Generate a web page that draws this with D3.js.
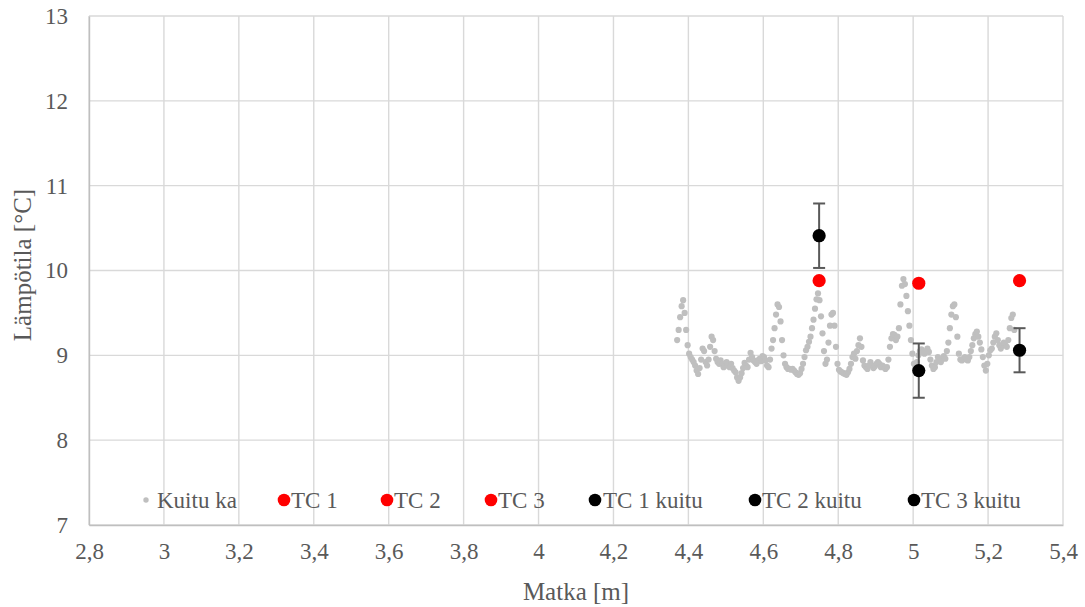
<!DOCTYPE html>
<html><head><meta charset="utf-8">
<script src="https://cdn.jsdelivr.net/npm/d3@7"></script>
<style>body{margin:0;background:#fff}svg text{font-family:"Liberation Serif","Times New Roman",serif;fill:#595959}</style>
</head><body><svg id="c" width="1085" height="607"></svg>
<script>
const xTicks=[2.8,3,3.2,3.4,3.6,3.8,4,4.2,4.4,4.6,4.8,5,5.2,5.4];
const yTicks=[7,8,9,10,11,12,13];
const kuituX=[
4.370,4.374,4.378,4.382,4.386,4.390,4.394,4.398,4.402,4.406,
4.410,4.414,4.418,4.422,4.426,4.430,4.434,4.438,4.442,4.446,
4.450,4.454,4.458,4.462,4.466,4.470,4.474,4.478,4.482,4.486,
4.490,4.494,4.498,4.502,4.506,4.510,4.514,4.518,4.522,4.526,
4.530,4.534,4.538,4.542,4.546,4.550,4.554,4.558,4.562,4.566,
4.570,4.574,4.578,4.582,4.586,4.590,4.594,4.598,4.602,4.606,
4.610,4.614,4.618,4.622,4.626,4.630,4.634,4.638,4.642,4.646,
4.650,4.654,4.658,4.662,4.666,4.670,4.674,4.678,4.682,4.686,
4.690,4.694,4.698,4.702,4.706,4.710,4.714,4.718,4.722,4.726,
4.730,4.734,4.738,4.742,4.746,4.750,4.754,4.758,4.762,4.766,
4.770,4.774,4.778,4.782,4.786,4.790,4.794,4.798,4.802,4.806,
4.810,4.814,4.818,4.822,4.826,4.830,4.834,4.838,4.842,4.846,
4.850,4.854,4.858,4.862,4.866,4.870,4.874,4.878,4.882,4.886,
4.890,4.894,4.898,4.902,4.906,4.910,4.914,4.918,4.922,4.926,
4.930,4.934,4.938,4.942,4.946,4.950,4.954,4.958,4.962,4.966,
4.970,4.974,4.978,4.982,4.986,4.990,4.994,4.998,5.002,5.006,
5.010,5.014,5.018,5.022,5.026,5.030,5.034,5.038,5.042,5.046,
5.050,5.054,5.058,5.062,5.066,5.070,5.074,5.078,5.082,5.086,
5.090,5.094,5.098,5.102,5.106,5.110,5.114,5.118,5.122,5.126,
5.130,5.134,5.138,5.142,5.146,5.150,5.154,5.158,5.162,5.166,
5.170,5.174,5.178,5.182,5.186,5.190,5.194,5.198,5.202,5.206,
5.210,5.214,5.218,5.222,5.226,5.230,5.234,5.238,5.242,5.246,
5.250,5.254,5.258,5.262,5.266,5.270];
const kuituY=[
9.18,9.30,9.45,9.58,9.65,9.50,9.30,9.12,9.02,8.98,
8.95,8.92,8.88,8.82,8.78,8.85,8.95,9.08,9.05,8.92,
8.88,8.95,9.10,9.22,9.18,9.05,8.96,8.92,8.90,8.94,
8.90,8.86,8.88,8.92,8.88,8.86,8.90,8.85,8.82,8.80,
8.74,8.70,8.74,8.79,8.85,8.91,8.88,8.86,8.95,9.03,
8.98,8.94,8.92,8.90,8.94,8.96,8.93,8.99,8.98,8.94,
8.88,8.86,8.95,9.08,9.18,9.32,9.48,9.60,9.57,9.40,
9.18,9.00,8.90,8.86,8.84,8.84,8.83,8.84,8.82,8.80,
8.78,8.77,8.79,8.84,8.90,8.98,9.06,9.10,9.16,9.22,
9.32,9.42,9.55,9.66,9.73,9.65,9.46,9.26,9.05,8.90,
8.95,9.15,9.35,9.48,9.50,9.35,9.10,8.90,8.83,8.81,
8.80,8.79,8.78,8.77,8.80,8.84,8.90,8.98,9.02,8.96,
9.05,9.12,9.20,9.10,8.94,8.88,8.86,8.84,8.88,8.92,
8.88,8.85,8.87,8.90,8.92,8.90,8.86,8.88,8.86,8.84,
8.86,8.95,9.10,9.20,9.25,9.24,9.18,9.22,9.32,9.60,
9.82,9.90,9.84,9.70,9.52,9.35,9.18,9.02,8.90,8.84,
8.92,9.00,9.05,9.07,9.04,9.02,9.05,9.08,9.04,8.95,
8.88,8.84,8.86,8.92,8.98,8.95,8.92,8.96,8.99,8.96,
9.05,9.15,9.32,9.48,9.58,9.60,9.45,9.22,9.02,8.95,
8.94,8.96,8.98,8.95,8.94,8.98,9.05,9.12,9.20,9.25,
9.28,9.22,9.15,9.07,8.98,8.88,8.82,8.90,9.00,9.06,
9.08,9.15,9.22,9.26,9.18,9.12,9.08,9.12,9.15,9.12,
9.10,9.18,9.32,9.44,9.48,9.30];
const tcNames=["TC 1","TC 2","TC 3"];
const tcX=[4.749,5.015,5.284];
const tcY=[9.88,9.85,9.88];
const fibNames=["TC 1 kuitu","TC 2 kuitu","TC 3 kuitu"];
const fibY=[10.41,8.82,9.06];
const fibErr=[0.38,0.32,0.26];
const legendLabels=["Kuitu ka"].concat(tcNames,fibNames);

const svg=d3.select("#c");
const L=89,R=1063,T=16,B=525;
const x=d3.scaleLinear().domain([2.8,5.4]).range([L,R]);
const y=d3.scaleLinear().domain([7,13]).range([B,T]);
const fmt=d=>String(+d.toFixed(1)).replace(".",",");
const FF='"Liberation Serif","Times New Roman",serif';

// grid
svg.append("g").selectAll("line").data(yTicks).join("line")
 .attr("x1",L).attr("x2",R).attr("y1",d=>y(d)).attr("y2",d=>y(d)).attr("stroke","#d9d9d9").attr("stroke-width",1.4);
svg.append("g").selectAll("line").data(xTicks).join("line")
 .attr("y1",T).attr("y2",B).attr("x1",d=>x(d)).attr("x2",d=>x(d)).attr("stroke","#d9d9d9").attr("stroke-width",1.4);

// axes
const ax=svg.append("g").attr("transform",`translate(0,${B})`).call(d3.axisBottom(x).tickValues(xTicks).tickFormat(fmt).tickSize(0).tickPadding(18));
ax.select(".domain").attr("stroke","#bfbfbf").attr("stroke-width",1.4);
ax.selectAll("text").attr("font-family",FF).style("font-size","23px").attr("fill","#595959");
const ay=svg.append("g").attr("transform",`translate(${L},0)`).call(d3.axisLeft(y).tickValues(yTicks).tickFormat(d=>d).tickSize(0).tickPadding(21));
ay.select(".domain").attr("stroke","#bfbfbf").attr("stroke-width",1.4);
ay.selectAll("text").attr("font-family",FF).style("font-size","23px").attr("fill","#595959");

// kuitu series
svg.append("g").selectAll("circle").data(kuituX).join("circle")
 .attr("cx",d=>x(d)).attr("cy",(d,i)=>y(kuituY[i])).attr("r",3.1).attr("fill","#bfbfbf");

// error bars
const eb=svg.append("g").attr("stroke","#595959").attr("stroke-width",2);
tcX.forEach((d,i)=>{
 const cx=x(d),y1=y(fibY[i]+fibErr[i]),y2=y(fibY[i]-fibErr[i]);
 eb.append("line").attr("x1",cx).attr("x2",cx).attr("y1",y1).attr("y2",y2);
 eb.append("line").attr("x1",cx-6).attr("x2",cx+6).attr("y1",y1).attr("y2",y1);
 eb.append("line").attr("x1",cx-6).attr("x2",cx+6).attr("y1",y2).attr("y2",y2);
});
svg.append("g").selectAll("circle").data(tcX).join("circle")
 .attr("cx",d=>x(d)).attr("cy",(d,i)=>y(tcY[i])).attr("r",6.6).attr("fill","#ff0000");
svg.append("g").selectAll("circle").data(tcX).join("circle")
 .attr("cx",d=>x(d)).attr("cy",(d,i)=>y(fibY[i])).attr("r",6.6).attr("fill","#000");

// legend
const legStyle=[{c:"#bfbfbf",r:2.7,x:146,tx:157},{c:"#ff0000",r:6.3,x:284,tx:291},{c:"#ff0000",r:6.3,x:387,tx:394},{c:"#ff0000",r:6.3,x:491,tx:498},{c:"#000",r:6.3,x:595,tx:603},{c:"#000",r:6.3,x:755,tx:762},{c:"#000",r:6.3,x:914,tx:921}];
const lg=svg.append("g");
legendLabels.forEach((n,i)=>{
 const it=legStyle[i];
 lg.append("circle").attr("cx",it.x).attr("cy",500).attr("r",it.r).attr("fill",it.c);
 lg.append("text").attr("x",it.tx).attr("y",508).attr("font-family",FF).style("font-size","23px").text(n);
});

// titles
svg.append("text").attr("x",576).attr("y",600).attr("text-anchor","middle").attr("font-family",FF).style("font-size","25px").text("Matka [m]");
svg.append("text").attr("transform",`translate(31,265) rotate(-90)`).attr("text-anchor","middle").attr("font-family",FF).style("font-size","25px").text("Lämpötila [°C]");
</script></body></html>
